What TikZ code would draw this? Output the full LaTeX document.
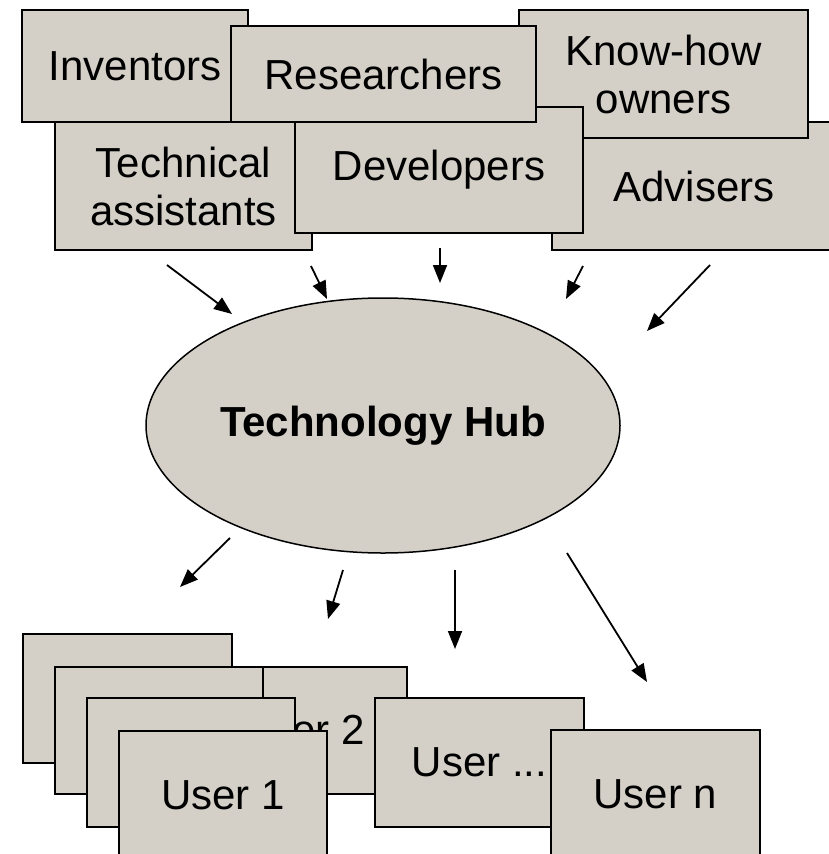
\documentclass[tikz,border=0pt]{standalone}
\usepackage{fontspec}
\setmainfont{Liberation Sans}
\usetikzlibrary{arrows.meta}
\usetikzlibrary{positioning}
\usetikzlibrary{shapes.geometric}
\definecolor{boxgray}{RGB}{212,208,200}

\begin{document}
\begin{tikzpicture}[x=1pt,y=-1pt,
  every node/.style={draw,line width=1.8pt,fill=boxgray,inner sep=0pt,align=center,font=\fontsize{42}{48}\selectfont},
  actor/.style={minimum width=#1pt},
  arr/.style={line width=1.8pt,-{Triangle[length=18pt,width=14pt]}}]
  \useasboundingbox (0,0) rectangle (829,854);
  \clip (0,0) rectangle (829,854);
  % suppliers, back to front
  \node[actor=226,minimum height=112pt] (inv) at (135,66) {Inventors};
  \node[actor=284,minimum height=128pt] (adv) at (694,186) {Advisers};
  \node[actor=289,minimum height=128pt] (know) at (663.5,74) {Know-how\\owners};
  \node[actor=257,minimum height=128pt] (tech) at (183.5,186) {Technical\\assistants};
  \node[actor=288,minimum height=126pt] (dev) at (439,170) {Developers};
  \node[actor=305,minimum height=96pt] (res) at (383.5,74) {Researchers};
  % the hub
  \node[ellipse,line width=1.5pt,minimum width=474pt,minimum height=255pt,font=\fontsize{42}{48}\selectfont\bfseries] (hub) at (383,425.5) {Technology Hub};
  % users, back to front
  \node[actor=209,minimum height=129pt] (ua) at (127.5,698.5) {};
  \node[actor=208,minimum height=127pt] (u2) at (303,730.5) {User 2};
  \node[actor=208,minimum height=127pt] (ub) at (159,730.5) {};
  \node[actor=208,minimum height=129pt] (uc) at (191,762.5) {};
  \node[actor=209,minimum height=129pt] (uell) at (479.5,762.5) {User ...};
  \node[actor=208,minimum height=129pt] (u1) at (223,795.5) {User 1};
  \node[actor=209,minimum height=129pt] (un) at (655.5,794.5) {User n};
  % arrow ends
  \coordinate (a1) at (167,265); \coordinate (b1) at (232,314);
  \coordinate (a2) at (311,266); \coordinate (b2) at (327,299);
  \coordinate (a3) at (440,248); \coordinate (b3) at (440,283);
  \coordinate (a4) at (583,266); \coordinate (b4) at (566,299);
  \coordinate (a5) at (710,265); \coordinate (b5) at (647,331);
  \coordinate (c1) at (230,538); \coordinate (d1) at (180,587);
  \coordinate (c2) at (343,570); \coordinate (d2) at (328,619);
  \coordinate (c3) at (455,570); \coordinate (d3) at (455,649);
  \coordinate (c4) at (567,553); \coordinate (d4) at (647,682);
  \foreach \i in {1,...,5}
    \draw[arr] (a\i) -- (b\i);
  \foreach \i in {1,...,4}
    \draw[arr] (c\i) -- (d\i);
\end{tikzpicture}
\end{document}
